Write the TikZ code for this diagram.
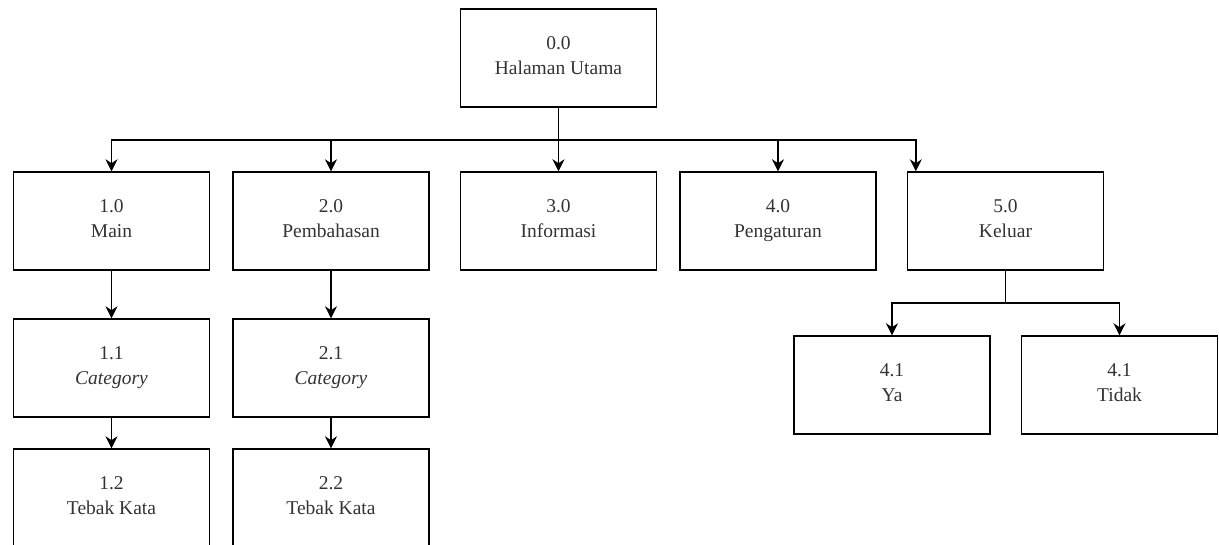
\documentclass[tikz,border=0pt]{standalone}
\usepackage{fontspec}
\setmainfont{Liberation Serif}
\usepackage{tikz}
\usetikzlibrary{calc,arrows.meta}

\begin{document}
\begin{tikzpicture}[x=0.5pt, y=-0.5pt,
		menubox/.style={draw, line width=0.7pt, minimum width=98pt, minimum height=49pt, inner sep=0pt,
			align=center, text=black!80, font=\fontsize{9.75}{12.5}\selectfont,
			execute at begin node={\rule{0pt}{10pt}}, execute at end node={\rule[-2pt]{0pt}{2pt}}},
		arr/.style={line width=0.7pt, -{Stealth[length=6pt, width=6pt]}}]
		%%%%% START %%%%%
		
		\useasboundingbox (0, 0) rectangle (1219, 545);
		
		\node[menubox] (top) at (558.5, 58) {0.0\\Halaman Utama};
		
		\node[menubox] (main) at (111.5, 221) {1.0\\Main};
		\node[menubox] (bahas) at (331, 221) {2.0\\Pembahasan};
		\node[menubox] (info) at (558.5, 221) {3.0\\Informasi};
		\node[menubox] (atur) at (778, 221) {4.0\\Pengaturan};
		\node[menubox] (keluar) at (1005.5, 221) {5.0\\Keluar};
		
		\node[menubox] (catmain) at (111.5, 368) {1.1\\\textit{Category}};
		\node[menubox] (catbahas) at (331, 368) {2.1\\\textit{Category}};
		\node[menubox] (tebakmain) at (111.5, 498) {1.2\\Tebak Kata};
		\node[menubox] (tebakbahas) at (331, 498) {2.2\\Tebak Kata};
		
		\node[menubox] (ya) at (892, 385) {4.1\\Ya};
		\node[menubox] (tidak) at (1119.5, 385) {4.1\\Tidak};
		
		\coordinate (bus) at (558.5, 140);
		\coordinate (kel) at ($(keluar.north west)+(9, 0)$);
		\coordinate (split) at (1005.5, 303);
		
		\draw[arr] (top.south) -- (bus) -| (main.north);
		\draw[arr] (top.south) -- (bus) -| (bahas.north);
		\draw[arr] (top.south) -- (info.north);
		\draw[arr] (top.south) -- (bus) -| (atur.north);
		\draw[arr] (top.south) -- (bus) -| (kel);
		
		\draw[arr] (main.south) -- (catmain.north);
		\draw[arr] (catmain.south) -- (tebakmain.north);
		\draw[arr] (bahas.south) -- (catbahas.north);
		\draw[arr] (catbahas.south) -- (tebakbahas.north);
		
		\draw[arr] (keluar.south) -- (split) -| (ya.north);
		\draw[arr] (keluar.south) -- (split) -| (tidak.north);
		
		%%%%% END %%%%%
	\end{tikzpicture}
\end{document}
